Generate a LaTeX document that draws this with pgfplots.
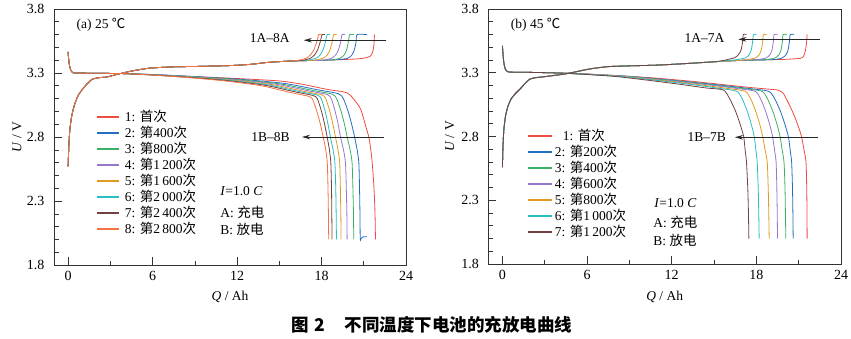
\documentclass[border=0pt]{standalone}
\usepackage{fontspec}
\setmainfont{Liberation Serif}
\newfontfamily\cjk{Noto Sans CJK SC}
\usepackage{pgfplots}
\pgfplotsset{compat=1.18}
\usetikzlibrary{arrows.meta}
\newcommand\zh[1]{{\cjk #1}}
\newcommand\fs{\fontsize{13.5}{15}\selectfont}
\definecolor{c1}{RGB}{238,75,65}
\definecolor{c2}{RGB}{35,110,195}
\definecolor{c3}{RGB}{60,175,105}
\definecolor{c4}{RGB}{150,120,205}
\definecolor{c5}{RGB}{225,155,35}
\definecolor{c6}{RGB}{40,190,195}
\definecolor{c7}{RGB}{115,65,65}
\definecolor{c8}{RGB}{245,115,65}
\pgfplotsset{
 myaxis/.style={
  scale only axis, width=352pt, height=256pt,
  xmin=-1, xmax=24, ymin=1.8, ymax=3.8,
  xtick={0,6,12,18,24}, minor x tick num=1,
  ytick={1.8,2.3,2.8,3.3,3.8}, minor y tick num=4,
  tick pos=left, tick align=inside,
  major tick length=8pt, minor tick length=4.5pt,
  every tick/.style={black!80, line width=0.6pt},
  axis line style={black!80, line width=0.7pt},
  /pgf/number format/assume math mode=true,
  tick label style={font=\fontsize{14}{16}\selectfont},
  yticklabel style={/pgf/number format/fixed, /pgf/number format/precision=1, /pgf/number format/fixed zerofill, xshift=-6pt},
  xticklabel style={yshift=-3pt},
  label style={font=\fs},
  legend cell align=left,
  legend style={draw=none, fill=none, anchor=north west, inner sep=0pt, outer sep=0pt, font=\fs,
    nodes={inner sep=0pt, text height=12pt, text depth=3pt}, row sep=1pt},
  every axis plot/.append style={line width=0.8pt, smooth, tension=0.4},
 }
}
\begin{document}
\begin{tikzpicture}[x=1pt,y=1pt]
\useasboundingbox (0,0) rectangle (851,338);
% ---------------- (a) 25 C
\begin{axis}[myaxis, at={(54pt,73pt)}, anchor=south west,
  xlabel={\textit{Q} / Ah}, ylabel={\textit{U} / V},
  xlabel style={at={(rel axis cs:0.5,-0.126)}, anchor=center},
  ylabel style={at={(rel axis cs:-0.105,0.5)}, anchor=center, rotate=0},
  legend style={at={(rel axis cs:0.119,0.607)}},
  legend image code/.code={\draw[#1, line width=1.3pt] (0pt,0pt) -- (22pt,0pt); \path (28pt,0pt);},
 ]
% charge curves
\addplot[c1, forget plot] coordinates {(0,2.57) (0.05,2.72) (0.12,2.85) (0.25,2.96) (0.45,3.05) (0.7,3.12) (1.0,3.17) (1.35,3.215) (1.7,3.25) (2.1,3.262) (2.8,3.27) (3.5,3.29) (4.5,3.315) (5.8,3.338) (7.5,3.348) (9.4,3.352) (11.5,3.358) (13,3.368) (14.1,3.382) (15.5,3.392) (17,3.397) (19,3.403) (20.5,3.41) (21.2,3.42) (21.5,3.435) (21.65,3.47) (21.72,3.52) (21.76,3.6)};
\addplot[c2, forget plot] coordinates {(0,2.57) (0.05,2.72) (0.12,2.85) (0.25,2.96) (0.45,3.05) (0.7,3.12) (1.0,3.17) (1.35,3.215) (1.7,3.25) (2.1,3.262) (2.8,3.27) (3.5,3.29) (4.5,3.315) (5.8,3.338) (7.5,3.348) (9.4,3.352) (11.5,3.358) (13,3.368) (14.1,3.382) (15.5,3.392) (17,3.397) (19,3.403) (19.85,3.415) (20.15,3.44) (20.33,3.48) (20.45,3.54) (20.53,3.6) (21.24,3.6)};
\addplot[c3, forget plot] coordinates {(0,2.57) (0.05,2.72) (0.12,2.85) (0.25,2.96) (0.45,3.05) (0.7,3.12) (1.0,3.17) (1.35,3.215) (1.7,3.25) (2.1,3.262) (2.8,3.27) (3.5,3.29) (4.5,3.315) (5.8,3.338) (7.5,3.348) (9.4,3.352) (11.5,3.358) (13,3.368) (14.1,3.382) (15.5,3.392) (17,3.397) (18.7,3.402) (19.3,3.415) (19.6,3.44) (19.78,3.48) (19.9,3.54) (20.0,3.6) (20.3,3.6)};
\addplot[c4, forget plot] coordinates {(0,2.57) (0.05,2.72) (0.12,2.85) (0.25,2.96) (0.45,3.05) (0.7,3.12) (1.0,3.17) (1.35,3.215) (1.7,3.25) (2.1,3.262) (2.8,3.27) (3.5,3.29) (4.5,3.315) (5.8,3.338) (7.5,3.348) (9.4,3.352) (11.5,3.358) (13,3.368) (14.1,3.382) (15.5,3.392) (17,3.397) (18.1,3.40) (18.7,3.415) (19.0,3.44) (19.2,3.48) (19.35,3.54) (19.46,3.6) (19.66,3.6)};
\addplot[c5, forget plot] coordinates {(0,2.57) (0.05,2.72) (0.12,2.85) (0.25,2.96) (0.45,3.05) (0.7,3.12) (1.0,3.17) (1.35,3.215) (1.7,3.25) (2.1,3.262) (2.8,3.27) (3.5,3.29) (4.5,3.315) (5.8,3.338) (7.5,3.348) (9.4,3.352) (11.5,3.358) (13,3.368) (14.1,3.382) (15.5,3.392) (17.5,3.40) (18.1,3.415) (18.4,3.44) (18.6,3.48) (18.75,3.54) (18.87,3.6) (19.07,3.6)};
\addplot[c6, forget plot] coordinates {(0,2.57) (0.05,2.72) (0.12,2.85) (0.25,2.96) (0.45,3.05) (0.7,3.12) (1.0,3.17) (1.35,3.215) (1.7,3.25) (2.1,3.262) (2.8,3.27) (3.5,3.29) (4.5,3.315) (5.8,3.338) (7.5,3.348) (9.4,3.352) (11.5,3.358) (13,3.368) (14.1,3.382) (15.5,3.392) (17,3.40) (17.6,3.415) (17.9,3.44) (18.1,3.48) (18.27,3.54) (18.4,3.6) (18.6,3.6)};
\addplot[c7, forget plot] coordinates {(0,2.57) (0.05,2.72) (0.12,2.85) (0.25,2.96) (0.45,3.05) (0.7,3.12) (1.0,3.17) (1.35,3.215) (1.7,3.25) (2.1,3.262) (2.8,3.27) (3.5,3.29) (4.5,3.315) (5.8,3.338) (7.5,3.348) (9.4,3.352) (11.5,3.358) (13,3.368) (14.1,3.382) (15.5,3.392) (16.7,3.40) (17.2,3.415) (17.5,3.44) (17.72,3.48) (17.9,3.54) (18.04,3.6) (18.24,3.6)};
\addplot[c8, forget plot] coordinates {(0,2.57) (0.05,2.72) (0.12,2.85) (0.25,2.96) (0.45,3.05) (0.7,3.12) (1.0,3.17) (1.35,3.215) (1.7,3.25) (2.1,3.262) (2.8,3.27) (3.5,3.29) (4.5,3.315) (5.8,3.338) (7.5,3.348) (9.4,3.352) (11.5,3.358) (13,3.368) (14.1,3.382) (15.5,3.392) (16.4,3.40) (16.9,3.415) (17.2,3.44) (17.45,3.48) (17.65,3.54) (17.8,3.6) (18.0,3.6)};
% discharge curves
\addplot[c1] coordinates {(0,3.465) (0.04,3.41) (0.1,3.36) (0.18,3.325) (0.3,3.305) (0.5,3.3) (2,3.298) (4,3.295) (6,3.287) (9,3.272) (12,3.257) (15,3.238) (16.5,3.215) (17.6,3.19) (18.6,3.168) (19.4,3.156) (19.8,3.145) (20.1,3.12) (20.4,3.08) (20.77,3.02) (21.0,2.94) (21.2,2.86) (21.36,2.8) (21.5,2.7) (21.6,2.6) (21.7,2.45) (21.77,2.3) (21.81,2.15) (21.83,2.0)};
\addlegendentry{1: \zh{首次}}
\addplot[c2] coordinates {(0,3.465) (0.04,3.41) (0.1,3.36) (0.18,3.325) (0.3,3.305) (0.5,3.3) (2,3.298) (4,3.295) (6.28,3.287) (9.32,3.27) (12.36,3.25) (15.4,3.218) (17.68,3.17) (19.2,3.138) (19.55,3.10) (19.89,3.0) (20.14,2.9) (20.35,2.8) (20.53,2.7) (20.65,2.6) (20.70,2.4) (20.73,2.2) (20.75,2.0) (20.8,2.005) (20.95,2.02) (21.24,2.02)};
\addlegendentry{2: \zh{第}400\zh{次}}
\addplot[c3] coordinates {(0,3.465) (0.04,3.41) (0.1,3.36) (0.18,3.325) (0.3,3.305) (0.5,3.3) (2,3.298) (4,3.295) (6.21,3.286) (9.16,3.269) (12.11,3.248) (15.06,3.215) (17.28,3.166) (18.75,3.135) (19.07,3.10) (19.39,3.0) (19.63,2.9) (19.82,2.8) (20.03,2.7) (20.17,2.6) (20.23,2.4) (20.27,2.2) (20.29,2.0)};
\addlegendentry{3: \zh{第}800\zh{次}}
\addplot[c4] coordinates {(0,3.465) (0.04,3.41) (0.1,3.36) (0.18,3.325) (0.3,3.305) (0.5,3.3) (2,3.298) (4,3.295) (6.16,3.286) (9.04,3.268) (11.92,3.246) (14.8,3.212) (16.96,3.163) (18.4,3.132) (18.69,3.10) (18.97,3.0) (19.18,2.9) (19.35,2.8) (19.56,2.7) (19.70,2.6) (19.76,2.4) (19.80,2.2) (19.82,2.0)};
\addlegendentry{4: \zh{第}1\,200\zh{次}}
\addplot[c5] coordinates {(0,3.465) (0.04,3.41) (0.1,3.36) (0.18,3.325) (0.3,3.305) (0.5,3.3) (2,3.298) (4,3.295) (6.1,3.285) (8.9,3.267) (11.7,3.244) (14.5,3.209) (16.6,3.16) (18.0,3.13) (18.3,3.10) (18.59,3.0) (18.81,2.9) (18.99,2.8) (19.17,2.7) (19.29,2.6) (19.34,2.4) (19.37,2.2) (19.39,2.0)};
\addlegendentry{5: \zh{第}1\,600\zh{次}}
\addplot[c6] coordinates {(0,3.465) (0.04,3.41) (0.1,3.36) (0.18,3.325) (0.3,3.305) (0.5,3.3) (2,3.298) (4,3.295) (6.06,3.285) (8.8,3.266) (11.54,3.242) (14.28,3.206) (16.33,3.157) (17.7,3.127) (17.98,3.10) (18.26,3.0) (18.46,2.9) (18.63,2.8) (18.82,2.7) (18.95,2.6) (19.01,2.4) (19.04,2.2) (19.06,2.0)};
\addlegendentry{6: \zh{第}2\,000\zh{次}}
\addplot[c7] coordinates {(0,3.465) (0.04,3.41) (0.1,3.36) (0.18,3.325) (0.3,3.305) (0.5,3.3) (2,3.298) (4,3.295) (6.01,3.284) (8.69,3.265) (11.37,3.24) (14.05,3.203) (16.06,3.154) (17.4,3.124) (17.7,3.10) (18.0,3.0) (18.22,2.9) (18.4,2.8) (18.56,2.7) (18.66,2.6) (18.71,2.4) (18.73,2.2) (18.75,2.0)};
\addlegendentry{7: \zh{第}2\,400\zh{次}}
\addplot[c8] coordinates {(0,3.465) (0.04,3.41) (0.1,3.36) (0.18,3.325) (0.3,3.305) (0.5,3.3) (2,3.298) (4,3.295) (5.95,3.284) (8.55,3.264) (11.15,3.238) (13.75,3.2) (15.7,3.15) (17.0,3.12) (17.34,3.10) (17.67,3.0) (17.92,2.9) (18.12,2.8) (18.30,2.7) (18.41,2.6) (18.46,2.4) (18.49,2.2) (18.51,2.0)};
\addlegendentry{8: \zh{第}2\,800\zh{次}}
\draw[black!85, line width=0.7pt, -{Stealth[length=8pt,width=4.5pt]}] (axis cs:22.6,3.556) -- (axis cs:16.74,3.556);
\draw[black!85, line width=0.7pt, -{Stealth[length=8pt,width=4.5pt]}] (axis cs:22.43,2.80) -- (axis cs:16.62,2.80);
\node[font=\fs, anchor=west] at (axis cs:0.36,3.677) {(a) 25 \zh{℃}};
\node[font=\fs] at (axis cs:14.32,3.573) {1A–8A};
\node[font=\fs] at (axis cs:14.37,2.80) {1B–8B};
\node[font=\fs, anchor=west] at (axis cs:10.57,2.375) {\textit{I}=1.0 \textit{C}};
\node[font=\fs, anchor=west] at (axis cs:10.57,2.214) {A: \zh{充电}};
\node[font=\fs, anchor=west] at (axis cs:10.57,2.081) {B: \zh{放电}};
\end{axis}
% ---------------- (b) 45 C
\begin{axis}[myaxis, at={(488.3pt,74pt)}, anchor=south west, width=352.7pt, height=255pt,
  xlabel={\textit{Q} / Ah}, ylabel={\textit{U} / V},
  xlabel style={at={(rel axis cs:0.5,-0.129)}, anchor=center},
  ylabel style={at={(rel axis cs:-0.109,0.5)}, anchor=center, rotate=0},
  legend style={at={(rel axis cs:0.112,0.531)}},
  legend image code/.code={\draw[#1, line width=1.3pt] (0pt,0pt) -- (24pt,0pt); \path (26pt,0pt);},
 ]
\addplot[c1, forget plot] coordinates {(0,2.56) (0.04,2.72) (0.1,2.85) (0.22,2.96) (0.4,3.04) (0.65,3.1) (0.95,3.14) (1.23,3.17) (1.6,3.215) (1.94,3.25) (2.4,3.262) (2.9,3.268) (3.6,3.278) (4.4,3.29) (5.1,3.305) (6.2,3.33) (7.5,3.348) (9,3.354) (11,3.36) (13,3.372) (15,3.386) (16.5,3.395) (18.1,3.40) (20,3.405) (21.1,3.413) (21.35,3.43) (21.47,3.47) (21.55,3.53) (21.6,3.6)};
\addplot[c2, forget plot] coordinates {(0,2.56) (0.04,2.72) (0.1,2.85) (0.22,2.96) (0.4,3.04) (0.65,3.1) (0.95,3.14) (1.23,3.17) (1.6,3.215) (1.94,3.25) (2.4,3.262) (2.9,3.268) (3.6,3.278) (4.4,3.29) (5.1,3.305) (6.2,3.33) (7.5,3.348) (9,3.354) (11,3.36) (13,3.372) (15,3.386) (16.5,3.395) (18.1,3.40) (19.2,3.403) (19.8,3.415) (20.1,3.44) (20.25,3.48) (20.34,3.54) (20.4,3.6) (20.68,3.6)};
\addplot[c3, forget plot] coordinates {(0,2.56) (0.04,2.72) (0.1,2.85) (0.22,2.96) (0.4,3.04) (0.65,3.1) (0.95,3.14) (1.23,3.17) (1.6,3.215) (1.94,3.25) (2.4,3.262) (2.9,3.268) (3.6,3.278) (4.4,3.29) (5.1,3.305) (6.2,3.33) (7.5,3.348) (9,3.354) (11,3.36) (13,3.372) (15,3.386) (16.5,3.395) (18.1,3.40) (18.7,3.403) (19.3,3.415) (19.6,3.44) (19.75,3.48) (19.84,3.54) (19.9,3.6) (20.15,3.6)};
\addplot[c4, forget plot] coordinates {(0,2.56) (0.04,2.72) (0.1,2.85) (0.22,2.96) (0.4,3.04) (0.65,3.1) (0.95,3.14) (1.23,3.17) (1.6,3.215) (1.94,3.25) (2.4,3.262) (2.9,3.268) (3.6,3.278) (4.4,3.29) (5.1,3.305) (6.2,3.33) (7.5,3.348) (9,3.354) (11,3.36) (13,3.372) (15,3.386) (16.5,3.395) (18.06,3.403) (18.66,3.415) (18.96,3.44) (19.11,3.48) (19.2,3.54) (19.26,3.6) (19.5,3.6)};
\addplot[c5, forget plot] coordinates {(0,2.56) (0.04,2.72) (0.1,2.85) (0.22,2.96) (0.4,3.04) (0.65,3.1) (0.95,3.14) (1.23,3.17) (1.6,3.215) (1.94,3.25) (2.4,3.262) (2.9,3.268) (3.6,3.278) (4.4,3.29) (5.1,3.305) (6.2,3.33) (7.5,3.348) (9,3.354) (11,3.36) (13,3.372) (15,3.386) (16.5,3.395) (17.3,3.403) (17.9,3.415) (18.2,3.44) (18.35,3.48) (18.44,3.54) (18.5,3.6) (18.72,3.6)};
\addplot[c6, forget plot] coordinates {(0,2.56) (0.04,2.72) (0.1,2.85) (0.22,2.96) (0.4,3.04) (0.65,3.1) (0.95,3.14) (1.23,3.17) (1.6,3.215) (1.94,3.25) (2.4,3.262) (2.9,3.268) (3.6,3.278) (4.4,3.29) (5.1,3.305) (6.2,3.33) (7.5,3.348) (9,3.354) (11,3.36) (13,3.372) (15,3.386) (15.9,3.395) (16.6,3.403) (17.19,3.415) (17.49,3.44) (17.64,3.48) (17.73,3.54) (17.79,3.6) (18.0,3.6)};
\addplot[c7, forget plot] coordinates {(0,2.56) (0.04,2.72) (0.1,2.85) (0.22,2.96) (0.4,3.04) (0.65,3.1) (0.95,3.14) (1.23,3.17) (1.6,3.215) (1.94,3.25) (2.4,3.262) (2.9,3.268) (3.6,3.278) (4.4,3.29) (5.1,3.305) (6.2,3.33) (7.5,3.348) (9,3.354) (11,3.36) (13,3.372) (15,3.386) (15.6,3.395) (16.0,3.405) (16.5,3.42) (16.75,3.445) (16.92,3.48) (17.02,3.54) (17.08,3.6) (17.3,3.6)};
\addplot[c1] coordinates {(0,3.51) (0.04,3.45) (0.1,3.38) (0.2,3.33) (0.35,3.31) (0.6,3.305) (2,3.303) (4,3.298) (6,3.29) (9,3.272) (11,3.257) (13.5,3.232) (15.8,3.205) (17.5,3.185) (18.8,3.172) (19.56,3.163) (19.9,3.14) (20.15,3.09) (20.4,3.034) (20.7,2.96) (20.98,2.877) (21.2,2.8) (21.37,2.7) (21.52,2.6) (21.57,2.4) (21.59,2.2) (21.6,2.0)};
\addlegendentry{\hspace*{8pt}1: \zh{首次}}
\addplot[c2] coordinates {(0,3.51) (0.04,3.45) (0.1,3.38) (0.2,3.33) (0.35,3.31) (0.6,3.305) (2,3.303) (4,3.298) (6.23,3.288) (9.2,3.27) (12.17,3.24) (15.14,3.207) (17.37,3.178) (18.85,3.155) (19.28,3.10) (19.70,3.0) (20.01,2.9) (20.27,2.8) (20.39,2.7) (20.5,2.6) (20.56,2.4) (20.59,2.2) (20.61,2.0)};
\addlegendentry{2: \zh{第}200\zh{次}}
\addplot[c3] coordinates {(0,3.51) (0.04,3.45) (0.1,3.38) (0.2,3.33) (0.35,3.31) (0.6,3.305) (2,3.303) (4,3.298) (6.16,3.288) (9.03,3.27) (11.91,3.24) (14.79,3.207) (16.94,3.178) (18.38,3.155) (18.77,3.10) (19.16,3.0) (19.45,2.9) (19.68,2.8) (19.82,2.7) (19.96,2.6) (20.03,2.4) (20.06,2.2) (20.09,2.0)};
\addlegendentry{3: \zh{第}400\zh{次}}
\addplot[c4] coordinates {(0,3.51) (0.04,3.45) (0.1,3.38) (0.2,3.33) (0.35,3.31) (0.6,3.305) (2,3.303) (4,3.298) (6.09,3.288) (8.87,3.27) (11.65,3.24) (14.43,3.207) (16.51,3.178) (17.9,3.155) (18.28,3.10) (18.65,3.0) (18.93,2.9) (19.15,2.8) (19.28,2.7) (19.4,2.6) (19.45,2.4) (19.48,2.2) (19.5,2.0)};
\addlegendentry{4: \zh{第}600\zh{次}}
\addplot[c5] coordinates {(0,3.51) (0.04,3.45) (0.1,3.38) (0.2,3.33) (0.35,3.31) (0.6,3.305) (2,3.303) (4,3.298) (5.98,3.288) (8.62,3.27) (11.26,3.24) (13.9,3.207) (15.88,3.178) (17.2,3.155) (17.58,3.10) (17.95,3.0) (18.23,2.9) (18.45,2.8) (18.61,2.7) (18.77,2.6) (18.84,2.4) (18.88,2.2) (18.91,2.0)};
\addlegendentry{5: \zh{第}800\zh{次}}
\addplot[c6] coordinates {(0,3.51) (0.04,3.45) (0.1,3.38) (0.2,3.33) (0.35,3.31) (0.6,3.305) (2,3.303) (4,3.298) (5.89,3.288) (8.41,3.27) (10.93,3.24) (13.45,3.207) (15.34,3.178) (16.6,3.155) (16.98,3.10) (17.35,3.0) (17.63,2.9) (17.85,2.8) (17.96,2.7) (18.06,2.6) (18.13,2.4) (18.17,2.2) (18.2,2.0)};
\addlegendentry{6: \zh{第}1\,000\zh{次}}
\addplot[c7] coordinates {(0,3.51) (0.04,3.45) (0.1,3.38) (0.2,3.33) (0.35,3.31) (0.6,3.305) (2,3.303) (4,3.298) (5.75,3.288) (8.08,3.27) (10.41,3.24) (12.75,3.207) (14.49,3.18) (15.66,3.165) (16.09,3.10) (16.52,3.0) (16.84,2.9) (17.1,2.8) (17.2,2.7) (17.3,2.6) (17.39,2.4) (17.44,2.2) (17.47,2.0)};
\addlegendentry{7: \zh{第}1\,200\zh{次}}
\draw[black!85, line width=0.7pt, -{Stealth[length=8pt,width=4.5pt]}] (axis cs:22.52,3.562) -- (axis cs:16.72,3.562);
\draw[black!85, line width=0.7pt, -{Stealth[length=8pt,width=4.5pt]}] (axis cs:22.4,2.794) -- (axis cs:16.48,2.794);
\node[font=\fs, anchor=west] at (axis cs:0.35,3.68) {(b) 45 \zh{℃}};
\node[font=\fs] at (axis cs:14.32,3.57) {1A–7A};
\node[font=\fs] at (axis cs:14.48,2.794) {1B–7B};
\node[font=\fs, anchor=west] at (axis cs:10.52,2.276) {\textit{I}=1.0 \textit{C}};
\node[font=\fs, anchor=west] at (axis cs:10.45,2.127) {A: \zh{充电}};
\node[font=\fs, anchor=west] at (axis cs:10.45,1.988) {B: \zh{放电}};
\end{axis}
\node[font=\cjk\bfseries\fontsize{17.5}{20}\selectfont] at (432,13) {图\hspace{0.3em}2\hspace{1.1em}不同温度下电池的充放电曲线};
\end{tikzpicture}
\end{document}
